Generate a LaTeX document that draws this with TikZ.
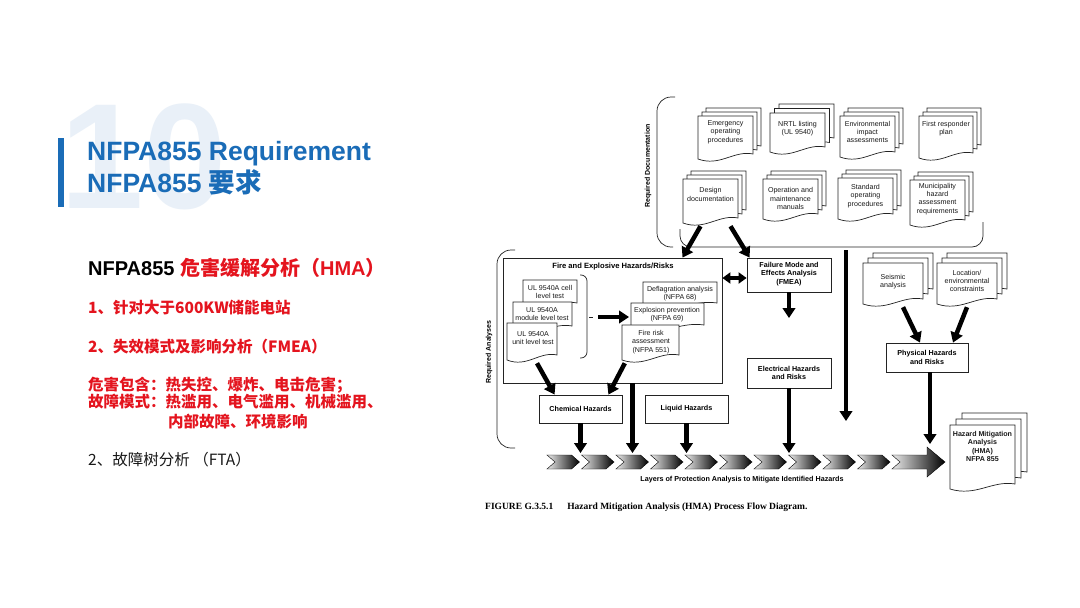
\documentclass[tikz,border=0pt]{standalone}
\usepackage{fontspec}
\setmainfont{Liberation Sans}
\newfontfamily\cjk{Noto Sans CJK SC}
\newfontfamily\serifb{Liberation Serif}
\usetikzlibrary{arrows.meta}

\definecolor{tblue}{RGB}{26,108,183}
\definecolor{wmark}{RGB}{233,240,248}
\definecolor{hred}{RGB}{228,20,30}
\definecolor{dline}{RGB}{35,35,35}

\tikzset{
 docline/.style={draw=dline, fill=white, line width=0.7pt},
 doctext/.style={font=\fontsize{7.1}{8.3}\selectfont, align=center, inner sep=0pt, text=black!90},
 boldtext/.style={font=\bfseries\fontsize{7.2}{8.3}\selectfont, align=center, inner sep=0pt, text=black},
 boxst/.style={draw=dline, line width=0.8pt, fill=white, inner sep=0pt},
 bigarrow/.style={line width=4.5pt, draw=black, -{Triangle[width=12.5pt,length=10pt]}},
 dblarrow/.style={line width=4pt, draw=black, {Triangle[width=11pt,length=8pt]}-{Triangle[width=11pt,length=8pt]}},
 bracketst/.style={draw=dline, line width=0.7pt, rounded corners=14pt},
 hollow/.style={inner sep=0pt},
 lefttext/.style={anchor=base west, inner sep=0pt},
}

\newcommand{\docshape}[4]{%
  \pgfmathsetmacro\dsXa{#1}\pgfmathsetmacro\dsYa{#2}%
  \pgfmathsetmacro\dsXb{#3}\pgfmathsetmacro\dsYb{#4}%
  \pgfmathsetmacro\dsW{\dsXb-\dsXa}%
  \filldraw[docline] (\dsXa,\dsYa) -- (\dsXb,\dsYa) -- (\dsXb,\dsYb-8)
    .. controls (\dsXb-0.35*\dsW,\dsYb-12) and (\dsXa+0.4*\dsW,\dsYb+5) .. (\dsXa,\dsYb-3) -- cycle;%
}
% name x1 y1 x2 y2 offset dy text
\newcommand{\docstack}[8]{%
  \docshape{(#2)+2*(#6)}{(#3)-2*(#6)}{(#4)+2*(#6)}{(#5)-2*(#6)}%
  \docshape{(#2)+(#6)}{(#3)-(#6)}{(#4)+(#6)}{(#5)-(#6)}%
  \docshape{#2}{#3}{#4}{#5}%
  \node[hollow, minimum width={(#4)-(#2)}, minimum height={(#5)-(#3)}] (#1) at ({((#2)+(#4))/2},{((#3)+(#5))/2}) {};%
  \node[doctext] (#1t) at ({((#2)+(#4))/2},{((#3)+(#5))/2+(#7)}) {#8};%
}
% name x1 y1 x2 y2 tx ty text
\newcommand{\docpage}[8]{%
  \docshape{#2}{#3}{#4}{#5}%
  \node[hollow, minimum width={(#4)-(#2)}, minimum height={(#5)-(#3)}] (#1) at ({((#2)+(#4))/2},{((#3)+(#5))/2}) {};%
  \node[doctext] (#1t) at (#6,#7) {#8};%
}

\begin{document}
\begin{tikzpicture}[x=1pt,y=-1pt]
\useasboundingbox (0,0) rectangle (1080,608);
\fill[white] (0,0) rectangle (1080,608);

% ---------- title ----------
\node[lefttext, font=\bfseries\fontsize{150}{150}\selectfont, text=wmark] (wm) at (60,208) {10};
\fill[tblue] (58,138) rectangle (64,207);
\node[lefttext, font=\bfseries\fontsize{26.5}{27}\selectfont, text=tblue] (t1) at (87,160) {NFPA855 Requirement};
\node[lefttext, font=\bfseries\fontsize{26.5}{27}\selectfont, text=tblue] (t2) at (87,192) {NFPA855 {\cjk 要求}};

% ---------- left text ----------
\node[lefttext, font=\bfseries\fontsize{20}{22}\selectfont] (l1) at (88,275)
  {\textcolor{black}{NFPA855 }\textcolor{hred}{{\cjk 危害缓解分析（}HMA{\cjk ）}}};
\node[lefttext, font=\cjk\bfseries\fontsize{15.5}{17}\selectfont, text=hred] (l2) at (88,313) {1、针对大于600KW储能电站};
\node[lefttext, font=\cjk\bfseries\fontsize{15.5}{17}\selectfont, text=hred] (l3) at (88,352) {2、失效模式及影响分析（FMEA）};
\node[lefttext, font=\cjk\bfseries\fontsize{15.5}{17}\selectfont, text=hred] (l4) at (88,390) {危害包含：热失控、爆炸、电击危害；};
\node[lefttext, font=\cjk\bfseries\fontsize{15.5}{17}\selectfont, text=hred] (l5) at (88,407) {故障模式：热滥用、电气滥用、机械滥用、};
\node[lefttext, font=\cjk\bfseries\fontsize{15.5}{17}\selectfont, text=hred] (l6) at (168,427) {内部故障、环境影响};
\node[lefttext, font=\cjk\fontsize{15.5}{17}\selectfont, text=black!90] (l7) at (88,465) {2、故障树分析 （FTA）};

% ---------- brackets ----------
\draw[bracketst] (675,97) -- (657,97) -- (657,247) -- (673,247);
\draw[bracketst, rounded corners=11pt] (680,229) -- (680,247) -- (983,247) -- (983,222);
\draw[bracketst] (515,250) -- (497,250) -- (497,448) -- (515,448);
\node[rotate=90, font=\bfseries\fontsize{7}{7}\selectfont] (reqdoc) at (648,166) {Required Documentation};
\node[rotate=90, font=\bfseries\fontsize{7}{7}\selectfont] (reqana) at (489,352) {Required Analyses};

% ---------- required documentation ----------
\docstack{emer}{698}{116}{753}{162}{4}{-7}{Emergency\\operating\\procedures}
\docstack{nrtl}{770}{113}{825}{155}{4.5}{-5}{NRTL listing\\(UL 9540)}
\docstack{envi}{840}{116}{895}{160}{4}{-6}{Environmental\\impact\\assessments}
\docstack{firp}{919}{116}{973}{161}{4}{-10}{First responder\\plan}
\docstack{design}{683}{179}{738}{226}{4}{-8}{Design\\documentation}
\docstack{opman}{763}{179}{818}{222}{4}{-2}{Operation and\\maintenance\\manuals}
\docstack{stdop}{838}{178}{893}{222}{4}{-4}{Standard\\operating\\procedures}
\docstack{muni}{910}{180}{965}{228}{4}{-5}{Municipality\\hazard\\assessment\\requirements}

% ---------- fire and explosive box ----------
\node[boxst, minimum width=219, minimum height=125] (fire) at (612.5,320.5) {};
\node[boldtext, font=\bfseries\fontsize{7.6}{8.5}\selectfont] (firet) at (613,267) {Fire and Explosive Hazards/Risks};
\docpage{ulcell}{523}{280}{577}{311}{550}{292}{UL 9540A cell\\level test}
\docpage{ulmod}{513}{302}{572}{334}{542}{314}{UL 9540A\\module level test}
\docpage{ulunit}{507}{323}{557}{363}{533}{338}{UL 9540A\\unit level test}
\draw[dline, line width=0.7pt, rounded corners=6pt] (580,275) -- (587,275) -- (587,358) -- (580,358);
\draw[dline, line width=0.7pt] (589,317) -- (593,317);
\docpage{defl}{643}{282}{717}{311}{680}{294}{Deflagration analysis\\(NFPA 68)}
\docpage{expl}{631}{303}{704}{333}{667}{315}{Explosion prevention\\(NFPA 69)}
\docpage{frisk}{622}{325}{679}{363}{651}{342}{Fire risk\\assessment\\(NFPA 551)}
\coordinate (ba1) at (598,317);
\coordinate (ba2) at (629,317);
\draw[bigarrow] (ba1) -- (ba2);

% ---------- other boxes ----------
\node[boxst, minimum width=84, minimum height=34] (fmea) at (789,275) {};
\node[boldtext] (fmeat) at (789,274) {Failure Mode and\\Effects Analysis\\(FMEA)};
\node[boxst, minimum width=84, minimum height=30] (elec) at (789,373) {};
\node[boldtext] (elect) at (789,373) {Electrical Hazards\\and Risks};
\node[boxst, minimum width=82, minimum height=29] (phys) at (927,357.5) {};
\node[boldtext] (physt) at (927,357.5) {Physical Hazards\\and Risks};
\node[boxst, minimum width=83, minimum height=28] (chem) at (580.5,409) {};
\node[boldtext] (chemt) at (580.5,409) {Chemical Hazards};
\node[boxst, minimum width=83, minimum height=28] (liquid) at (686.5,409) {};
\node[boldtext] (liquidt) at (686.5,409) {Liquid Hazards};

\docstack{seis}{863}{263}{923}{307}{5}{-3}{Seismic\\analysis}
\docstack{loc}{937}{263}{997}{307}{5}{-4}{Location/\\environmental\\constraints}

% ---------- chevrons ----------
\foreach \i in {0,...,9}{
  \pgfmathsetmacro\cx{547+34.5*\i}
  \shadedraw[draw=black, line width=0.4pt, left color=white!92!black, middle color=black!90, right color=black]
    (\cx,455) -- (\cx+24.5,455) -- (\cx+32.5,462) -- (\cx+24.5,469) -- (\cx,469) -- (\cx+8,462) -- cycle;
}
\shadedraw[draw=black, line width=0.4pt, left color=white!92!black, middle color=black, right color=black]
  (892,455) -- (927,455) -- (927,447) -- (945,462) -- (927,477) -- (927,469) -- (892,469) -- (900,462) -- cycle;
\node[font=\bfseries\fontsize{7.2}{8}\selectfont] (layers) at (742,480) {Layers of Protection Analysis to Mitigate Identified Hazards};

\docstack{hma}{950}{425}{1015}{492}{6}{-12}{\bfseries Hazard Mitigation\\\bfseries Analysis\\\bfseries (HMA)\\\bfseries NFPA 855}

% ---------- connectors ----------
\coordinate (fmeaend) at (789,318);
\coordinate (eend) at (789,453);
\coordinate (vtop) at (846,250);
\coordinate (vbot) at (846,421);
\coordinate (fend) at (632.5,453);
\coordinate (cend) at (580.5,453);
\coordinate (lend) at (686.5,453);
\coordinate (pend) at (930,444);

\draw[bigarrow] ([xshift=-10pt]design.south) -- ([xshift=70pt]fire.north);
\draw[bigarrow] ([xshift=20pt]design.south) -- ([xshift=3pt]fmea.north west);
\draw[dblarrow] ([yshift=-3pt]fire.east |- fmea.west) -- ([yshift=-3pt]fmea.west);
\draw[bigarrow] (fmea.south) -- (fmeaend);
\draw[bigarrow] (elec.south) -- (eend);
\draw[bigarrow] (vtop) -- (vbot);
\draw[bigarrow] ([xshift=20pt]fire.south) -- (fend);
\draw[bigarrow] (chem.south) -- (cend);
\draw[bigarrow] (liquid.south) -- (lend);
\draw[bigarrow] ([xshift=5pt]ulunit.south) -- ([xshift=16pt]chem.north west);
\draw[bigarrow] ([xshift=3pt]frisk.south west) -- ([xshift=-14pt]chem.north east);
\draw[bigarrow] ([xshift=10pt]seis.south) -- ([xshift=-7pt]phys.north);
\draw[bigarrow] (loc.south) -- ([xshift=26pt]phys.north);
\draw[bigarrow] ([xshift=3pt]phys.south) -- (pend);

% ---------- caption ----------
\node[lefttext, font=\serifb\bfseries\fontsize{9.5}{10}\selectfont] (cap) at (485,509)
  {FIGURE G.3.5.1\hspace{14pt}Hazard Mitigation Analysis (HMA) Process Flow Diagram.};
\end{tikzpicture}
\end{document}
